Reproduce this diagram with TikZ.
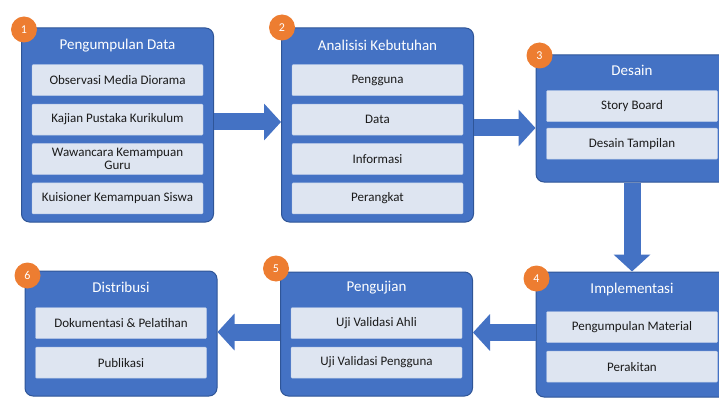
\documentclass[tikz,border=0pt]{standalone}
\usepackage{fontspec}
\setmainfont{Carlito}
\usetikzlibrary{positioning, arrows.meta, calc}
\definecolor{stageblue}{HTML}{4472C4}
\definecolor{stageedge}{HTML}{2F5597}
\definecolor{taskfill}{HTML}{DEE5F1}
\definecolor{taskedge}{HTML}{B4C7E7}
\definecolor{badgeorange}{HTML}{ED7D31}
\definecolor{tasktext}{HTML}{1A1A1A}

\begin{document}
\begin{tikzpicture}[
    x=1pt, y=-1pt,
    stage/.style={draw=stageedge, fill=stageblue, line width=1pt, rounded corners=8pt, minimum width=192pt, inner sep=0pt},
    stagetitle/.style={text=white, font=\fontsize{15}{17}\selectfont},
    task/.style={draw=taskedge, fill=taskfill, text width=165pt, minimum height=31pt, inner xsep=3pt, inner ysep=0pt, align=flush center, text=tasktext, font=\fontsize{13}{13.5}\selectfont, rounded corners=1pt},
    badge/.style={circle, fill=badgeorange, minimum size=26pt, inner sep=0pt, text=white, font=\fontsize{12}{14}\selectfont},
    flow/.style={stageblue, line width=17pt, -{Triangle[length=17pt, width=36pt]}}
]
    \clip (0,0) rectangle (719,398);
    \useasboundingbox (0,0) rectangle (719,398);

    % Stage 1
    \node[stage, minimum height=194pt] (s1) at (117.5,125) {};
    \node[stagetitle] (t1) at ([yshift=-18pt]s1.north) {Pengumpulan Data};
    \node[task, anchor=north] (s1a) at ([yshift=-37pt]s1.north) {Observasi Media Diorama};
    \node[task, below=8pt of s1a] (s1b) {Kajian Pustaka Kurikulum};
    \node[task, below=8pt of s1b] (s1c) {Wawancara Kemampuan\\Guru};
    \node[task, below=8pt of s1c] (s1d) {Kuisioner Kemampuan Siswa};
    \node[badge] (b1) at ([shift={(3pt,-2pt)}]s1.north west) {1};

    % Stage 2
    \node[stage, minimum height=194pt] (s2) at (377.5,125) {};
    \node[stagetitle] (t2) at ([yshift=-18pt]s2.north) {Analisisi Kebutuhan};
    \node[task, anchor=north] (s2a) at ([yshift=-37pt]s2.north) {Pengguna};
    \node[task, below=8pt of s2a] (s2b) {Data};
    \node[task, below=8pt of s2b] (s2c) {Informasi};
    \node[task, below=8pt of s2c] (s2d) {Perangkat};
    \node[badge] (b2) at ([shift={(1pt,0pt)}]s2.north west) {2};

    % Stage 3
    \node[stage, minimum height=127pt] (s3) at (632,118.5) {};
    \node[stagetitle] (t3) at ([yshift=-16pt]s3.north) {Desain};
    \node[task, anchor=north] (s3a) at ([yshift=-36pt]s3.north) {Story Board};
    \node[task, below=6pt of s3a] (s3b) {Desain Tampilan};
    \node[badge] (b3) at ([shift={(4pt,-1pt)}]s3.north west) {3};

    % Stage 4
    \node[stage, minimum height=125pt] (s4) at (632,334.5) {};
    \node[stagetitle] (t4) at ([yshift=-18pt]s4.north) {Implementasi};
    \node[task, anchor=north] (s4a) at ([yshift=-40pt]s4.north) {Pengumpulan Material};
    \node[task, below=8pt of s4a] (s4b) {Perakitan};
    \node[badge] (b4) at ([shift={(1pt,-7pt)}]s4.north west) {4};

    % Stage 5
    \node[stage, minimum height=124pt] (s5) at (376.5,334) {};
    \node[stagetitle] (t5) at ([yshift=-16pt]s5.north) {Pengujian};
    \node[task, anchor=north] (s5a) at ([yshift=-36pt]s5.north) {Uji Validasi Ahli};
    \node[task, below=8pt of s5a] (s5b) {Uji Validasi Pengguna};
    \node[badge] (b5) at ([shift={(-4pt,3pt)}]s5.north west) {5};

    % Stage 6
    \node[stage, minimum height=125pt] (s6) at (121,333.5) {};
    \node[stagetitle] (t6) at ([yshift=-17pt]s6.north) {Distribusi};
    \node[task, anchor=north] (s6a) at ([yshift=-37pt]s6.north) {Dokumentasi \& Pelatihan};
    \node[task, below=8pt of s6a] (s6b) {Publikasi};
    \node[badge] (b6) at ([shift={(3pt,-5pt)}]s6.north west) {6};

    % Arrows
    \draw[flow] ([yshift=3pt]s1.east) -- ([yshift=3pt]s1.east -| s2.west);
    \draw[flow] ([yshift=-3pt]s2.east) -- ([yshift=-3pt]s2.east -| s3.west);
    \draw[flow] (s3.south) -- (s4.north);
    \draw[flow] ([yshift=2pt]s4.west) -- ([yshift=2pt]s4.west -| s5.east);
    \draw[flow] ([yshift=2pt]s5.west) -- ([yshift=2pt]s5.west -| s6.east);
\end{tikzpicture}
\end{document}
